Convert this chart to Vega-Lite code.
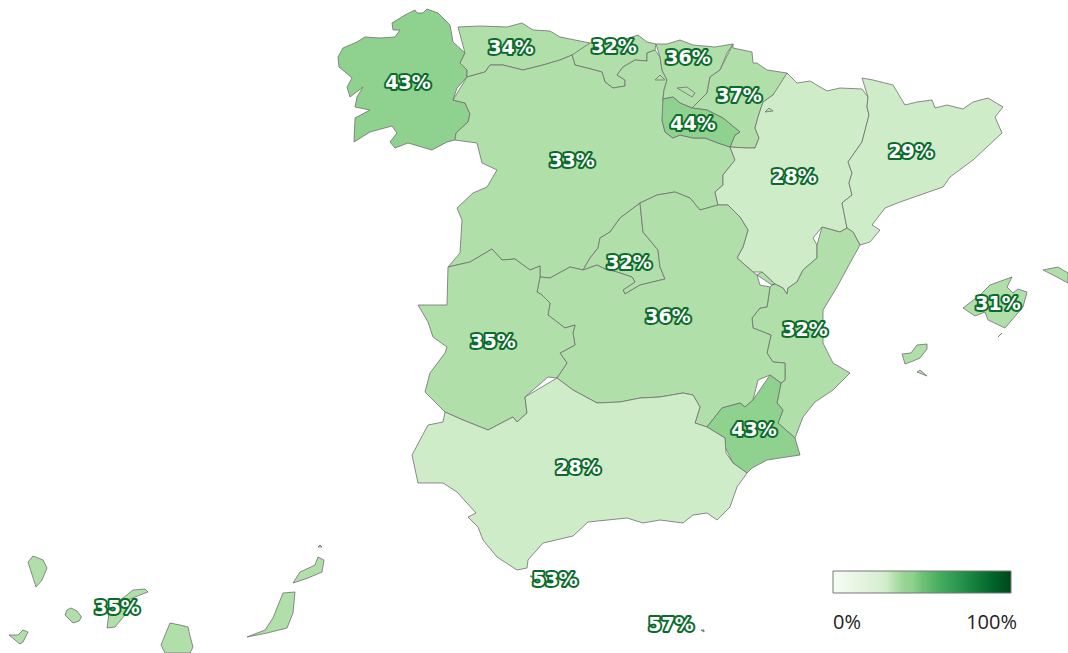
{
"$schema":"https://vega.github.io/schema/vega-lite/v6.json",
"width":1068,"height":653,"padding":0,"autosize":{"type":"none"},
"background":"white","config":{"view":{"stroke":null}},
"projection":{"type":"identity","scale":0.1,"translate":[0,0]},
"layer":[
{"data":{"values":{"type":"FeatureCollection","features":[
{"type":"Feature","properties":{"name":"Galicia","pct":43},"geometry":{"type":"Polygon","coordinates":[[[4500,250],[4380,130],[4270,90],[4230,130],[4170,130],[4150,100],[4050,150],[3920,230],[3930,300],[4000,300],[3950,370],[3800,380],[3650,370],[3570,420],[3430,480],[3380,570],[3390,670],[3450,720],[3520,780],[3470,870],[3500,970],[3630,870],[3570,970],[3550,1070],[3700,1100],[3550,1180],[3540,1420],[3700,1320],[3920,1260],[3970,1330],[3900,1420],[3950,1480],[4080,1430],[4320,1500],[4470,1420],[4550,1400],[4560,1330],[4680,1220],[4700,1140],[4650,1030],[4530,1000],[4570,880],[4670,770],[4670,700],[4600,630],[4650,530],[4530,420],[4580,270]]]}},
{"type":"Feature","properties":{"name":"Asturias","pct":34},"geometry":{"type":"Polygon","coordinates":[[[4580,270],[4800,260],[5070,270],[5220,230],[5330,300],[5500,310],[5600,370],[5900,430],[5890,500],[5720,550],[5600,600],[5430,650],[5230,700],[5030,650],[4900,650],[4850,720],[4670,770],[4670,700],[4600,630],[4650,530],[4530,420]]]}},
{"type":"Feature","properties":{"name":"Cantabria","pct":32},"geometry":{"type":"Polygon","coordinates":[[[5900,430],[6200,410],[6380,350],[6470,420],[6560,440],[6550,500],[6470,530],[6470,610],[6350,600],[6230,670],[6170,750],[6250,800],[6250,860],[6130,880],[6050,820],[6020,720],[5870,680],[5750,650],[5720,550],[5890,500]]]}},
{"type":"Feature","properties":{"name":"Castilla y León","pct":33},"geometry":{"type":"Polygon","coordinates":[[[4670,770],[4850,720],[4900,650],[5030,650],[5230,700],[5430,650],[5600,600],[5720,550],[5750,650],[5870,680],[6020,720],[6050,820],[6130,880],[6250,860],[6250,800],[6170,750],[6230,670],[6350,600],[6470,610],[6470,530],[6550,500],[6600,570],[6620,700],[6670,800],[6640,900],[6630,990],[6640,1080],[6620,1200],[6650,1320],[6730,1380],[6800,1350],[6930,1380],[7050,1380],[7180,1430],[7300,1470],[7350,1600],[7230,1750],[7230,1850],[7150,1920],[7180,2050],[7000,2100],[6900,1980],[6750,1920],[6570,1950],[6400,2030],[6200,2180],[6100,2320],[6000,2380],[5980,2480],[5900,2580],[5830,2700],[5700,2670],[5500,2780],[5400,2770],[5400,2660],[5300,2700],[5150,2590],[5020,2600],[4920,2490],[4700,2620],[4480,2670],[4600,2530],[4620,2200],[4570,2080],[4730,1930],[4870,1870],[4970,1700],[4820,1630],[4770,1430],[4550,1400],[4560,1330],[4680,1220],[4700,1140],[4650,1030],[4530,1000],[4570,880]]]}},
{"type":"Feature","properties":{"name":"País Vasco","pct":36},"geometry":{"type":"Polygon","coordinates":[[[6560,440],[6670,440],[6800,400],[6930,450],[7150,470],[7330,440],[7270,530],[7200,700],[7100,770],[7070,930],[6980,1020],[6920,1080],[6800,1030],[6730,970],[6630,990],[6640,900],[6670,800],[6620,700],[6600,570],[6550,500]]]}},
{"type":"Feature","properties":{"name":"Navarra","pct":37},"geometry":{"type":"Polygon","coordinates":[[[7330,440],[7330,480],[7520,520],[7530,630],[7570,630],[7670,700],[7870,730],[7850,820],[7730,950],[7630,1020],[7580,1170],[7550,1280],[7590,1380],[7550,1480],[7470,1480],[7300,1470],[7350,1350],[7400,1320],[7230,1180],[7070,1100],[6920,1080],[6980,1020],[7070,930],[7100,770],[7200,700],[7270,530]]]}},
{"type":"Feature","properties":{"name":"La Rioja","pct":44},"geometry":{"type":"Polygon","coordinates":[[[6630,990],[6730,970],[6800,1030],[6920,1080],[7070,1100],[7230,1180],[7400,1320],[7350,1350],[7300,1470],[7180,1430],[7050,1380],[6930,1380],[6800,1350],[6730,1380],[6650,1320],[6620,1200],[6640,1080]]]}},
{"type":"Feature","properties":{"name":"Aragón","pct":28},"geometry":{"type":"Polygon","coordinates":[[[7870,730],[7970,830],[8100,810],[8270,910],[8400,880],[8620,890],[8680,970],[8670,1070],[8690,1150],[8620,1420],[8480,1620],[8520,1730],[8490,1830],[8520,1950],[8420,2030],[8470,2280],[8400,2320],[8220,2270],[8130,2380],[8170,2450],[8170,2580],[8030,2700],[7970,2820],[7880,2880],[7870,2940],[7830,2880],[7750,2840],[7620,2720],[7530,2720],[7370,2580],[7430,2470],[7480,2300],[7400,2170],[7280,2050],[7180,2050],[7150,1920],[7230,1850],[7230,1750],[7350,1600],[7300,1470],[7470,1480],[7550,1480],[7590,1380],[7550,1280],[7580,1170],[7630,1020],[7730,950],[7850,820]]]}},
{"type":"Feature","properties":{"name":"Cataluña","pct":29},"geometry":{"type":"Polygon","coordinates":[[[8620,780],[8730,800],[8930,850],[9050,1050],[9170,1020],[9320,1000],[9350,1080],[9470,1050],[9630,1090],[9730,1020],[9880,980],[10030,1070],[9950,1170],[10020,1330],[9730,1600],[9500,1770],[9430,1870],[9000,2020],[8850,2080],[8720,2250],[8800,2300],[8700,2420],[8600,2450],[8530,2320],[8470,2280],[8420,2030],[8520,1950],[8490,1830],[8520,1730],[8480,1620],[8620,1420],[8690,1150],[8670,1070],[8680,970],[8620,890]]]}},
{"type":"Feature","properties":{"name":"Comunidad Valenciana","pct":32},"geometry":{"type":"MultiPolygon","coordinates":[[[[8220,2270],[8400,2320],[8470,2280],[8530,2320],[8600,2450],[8500,2630],[8370,2870],[8230,3100],[8230,3430],[8330,3630],[8500,3730],[8330,3900],[8150,4020],[8030,4170],[7950,4380],[7780,4230],[7830,4100],[7770,4030],[7810,3830],[7850,3800],[7850,3630],[7730,3620],[7670,3530],[7710,3350],[7530,3280],[7520,3180],[7600,3080],[7670,3070],[7700,2870],[7720,2850],[7750,2840],[7830,2880],[7870,2940],[7880,2880],[7970,2820],[8030,2700],[8170,2580],[8170,2450],[8130,2380]]],[[[7570,2750],[7620,2720],[7750,2840],[7720,2850],[7600,2850]]]]}},
{"type":"Feature","properties":{"name":"Madrid","pct":32},"geometry":{"type":"Polygon","coordinates":[[[6400,2030],[6200,2180],[6100,2320],[6000,2380],[5980,2480],[5900,2580],[5830,2700],[5970,2650],[6050,2690],[6170,2720],[6320,2770],[6350,2820],[6230,2900],[6250,2940],[6400,2850],[6650,2790],[6600,2670],[6580,2500],[6430,2320],[6470,2100]]]}},
{"type":"Feature","properties":{"name":"Castilla-La Mancha","pct":36},"geometry":{"type":"Polygon","coordinates":[[[6400,2030],[6570,1950],[6750,1920],[6900,1980],[7000,2100],[7180,2050],[7280,2050],[7400,2170],[7480,2300],[7430,2470],[7370,2580],[7530,2720],[7570,2750],[7600,2850],[7700,2870],[7670,3070],[7600,3080],[7520,3180],[7530,3280],[7710,3350],[7670,3530],[7730,3620],[7850,3630],[7850,3800],[7810,3830],[7700,3750],[7580,3800],[7530,4000],[7450,4070],[7400,4030],[7220,4080],[7070,4270],[6950,4230],[7000,4070],[6930,3950],[6830,3930],[6600,3970],[6400,3980],[6200,4020],[5970,4030],[5730,3900],[5570,3780],[5670,3630],[5600,3530],[5750,3450],[5730,3330],[5750,3250],[5650,3280],[5480,3150],[5500,3030],[5420,2950],[5370,2920],[5400,2770],[5500,2780],[5700,2670],[5830,2700],[5970,2650],[6050,2690],[6170,2720],[6320,2770],[6350,2820],[6230,2900],[6250,2940],[6400,2850],[6650,2790],[6600,2670],[6580,2500],[6430,2320],[6470,2100]]]}},
{"type":"Feature","properties":{"name":"Extremadura","pct":35},"geometry":{"type":"Polygon","coordinates":[[[4480,2670],[4700,2620],[4920,2490],[5020,2600],[5150,2590],[5300,2700],[5400,2660],[5400,2770],[5370,2920],[5420,2950],[5500,3030],[5480,3150],[5650,3280],[5750,3250],[5730,3330],[5750,3450],[5600,3530],[5670,3630],[5570,3780],[5480,3770],[5250,3970],[5270,4130],[5170,4220],[5130,4170],[4880,4300],[4630,4200],[4450,4120],[4250,3920],[4300,3730],[4450,3530],[4470,3470],[4330,3370],[4280,3220],[4180,3050],[4470,3050],[4550,2850]]]}},
{"type":"Feature","properties":{"name":"Murcia","pct":43},"geometry":{"type":"Polygon","coordinates":[[[7700,3750],[7810,3830],[7770,4030],[7830,4100],[7780,4230],[7950,4380],[8000,4550],[7800,4580],[7670,4600],[7520,4680],[7470,4730],[7330,4630],[7250,4470],[7250,4380],[7070,4270],[7220,4080],[7400,4030],[7450,4070],[7530,4000],[7580,3800]]]}},
{"type":"Feature","properties":{"name":"Andalucía","pct":28},"geometry":{"type":"Polygon","coordinates":[[[5570,3780],[5730,3900],[5970,4030],[6200,4020],[6400,3980],[6600,3970],[6830,3930],[6930,3950],[7000,4070],[6950,4230],[7070,4270],[7250,4380],[7260,4530],[7330,4630],[7470,4730],[7370,4870],[7300,5070],[7170,5200],[7070,5130],[6930,5150],[6830,5230],[6600,5200],[6430,5230],[6270,5180],[5880,5220],[5730,5360],[5430,5430],[5280,5600],[5270,5680],[5170,5700],[4970,5570],[4830,5400],[4780,5270],[4680,5170],[4760,5130],[4570,4920],[4430,4830],[4180,4830],[4120,4550],[4280,4250],[4430,4220],[4450,4120],[4630,4200],[4880,4300],[5130,4170],[5170,4220],[5270,4130],[5250,3970],[5480,3770]]]}},
{"type":"Feature","properties":{"name":"Baleares","pct":31},"geometry":{"type":"MultiPolygon","coordinates":[[[[9630,3080],[9800,2950],[9900,2850],[10120,2770],[10070,2870],[10130,2930],[10180,2890],[10270,2920],[10230,3070],[10050,3280],[9880,3200],[9850,3120],[9750,3160],[9730,3120]]],[[[10430,2700],[10580,2670],[10680,2730],[10680,2830],[10530,2750],[10450,2780]]],[[[9020,3540],[9110,3530],[9170,3450],[9270,3440],[9270,3490],[9200,3580],[9130,3610],[9050,3640],[9040,3600]]],[[[9170,3720],[9200,3700],[9270,3760],[9150,3780]]],[[[9980,3370],[10020,3330],[10020,3370]]]]}},
{"type":"Feature","properties":{"name":"Canarias","pct":35},"geometry":{"type":"MultiPolygon","coordinates":[[[[280,5620],[330,5560],[430,5600],[470,5680],[420,5800],[360,5870],[320,5730]]],[[[90,6350],[180,6350],[230,6300],[280,6320],[230,6420],[200,6440],[120,6380]]],[[[650,6150],[670,6100],[710,6080],[770,6110],[815,6170],[790,6210],[730,6230],[680,6220]]],[[[1070,6280],[1150,6270],[1250,6150],[1280,6000],[1400,5950],[1480,5920],[1450,5890],[1330,5900],[1230,5980],[1100,6050],[1000,6150]]],[[[1700,6230],[1800,6250],[1880,6270],[1900,6360],[1930,6470],[1900,6530],[1650,6530],[1610,6450],[1620,6330]]],[[[2470,6370],[2650,6300],[2730,6180],[2830,5930],[2950,5920],[2930,6130],[2870,6280],[2670,6330],[2570,6410]]],[[[2930,5830],[3000,5720],[3150,5650],[3180,5570],[3240,5600],[3220,5720],[3080,5780],[2950,5860]]],[[[3180,5470],[3200,5450],[3220,5470],[3200,5490]]]]}},
{"type":"Feature","properties":{"name":"Ceuta","pct":53},"geometry":{"type":"Polygon","coordinates":[[[5300,5760],[5340,5760],[5340,5790],[5300,5790]]]}},
{"type":"Feature","properties":{"name":"Melilla","pct":57},"geometry":{"type":"Polygon","coordinates":[[[7010,6300],[7040,6300],[7040,6320],[7010,6320]]]}},
{"type":"Feature","properties":{"name":"Condado de Treviño","pct":33},"geometry":{"type":"Polygon","coordinates":[[[6770,880],[6870,870],[6950,930],[6920,970],[6800,930]]]}},
{"type":"Feature","properties":{"name":"Valle de Villaverde","pct":33},"geometry":{"type":"Polygon","coordinates":[[[6550,800],[6600,750],[6650,800],[6600,830]]]}},
{"type":"Feature","properties":{"name":"Petilla de Aragón","pct":37},"geometry":{"type":"Polygon","coordinates":[[[7650,1120],[7690,1080],[7730,1110],[7670,1130]]]}}
]},"format":{"type":"json","property":"features"}},
"mark":{"type":"geoshape","stroke":"#6e6e6e","strokeWidth":0.8},
"encoding":{"color":{"field":"properties.pct","type":"quantitative",
"scale":{"type":"linear","domain":[0,25,28,30,30.5,38,40.5,45,50,60,70,80,90,100],"range":["#f7fcf5","#d9f0d3","#cfecc9","#cfecc9","#b1dfaa","#b1dfaa","#8fd18f","#8fd18f","#6fc277","#45ad5f","#2b9750","#137f3d","#03632a","#00481c"]},
"legend":{"title":null,"orient":"none","legendX":833,"legendY":571,"direction":"horizontal","gradientLength":178,"gradientThickness":22,"gradientStrokeColor":"#777777","gradientStrokeWidth":1,"values":[0,100],"labelExpr":"datum.label + '%'","labelFont":"Open Sans","labelFontSize":20,"labelColor":"#222222","labelOffset":20,"encode":{"labels":{"update":{"dx":{"signal":"datum.value == 100 ? 6 : 0"}}}}}}}},
{"data":{"name":"labels","values":[
{"x":4080,"y":820,"t":"43%"},{"x":5110,"y":470,"t":"34%"},{"x":6140,"y":460,"t":"32%"},{"x":6880,"y":570,"t":"36%"},{"x":7390,"y":950,"t":"37%"},{"x":6930,"y":1230,"t":"44%"},{"x":5720,"y":1600,"t":"33%"},{"x":7940,"y":1760,"t":"28%"},{"x":9110,"y":1510,"t":"29%"},{"x":6290,"y":2620,"t":"32%"},{"x":6680,"y":3160,"t":"36%"},{"x":4930,"y":3410,"t":"35%"},{"x":8050,"y":3290,"t":"32%"},{"x":7540,"y":4290,"t":"43%"},{"x":5780,"y":4670,"t":"28%"},{"x":9980,"y":3030,"t":"31%"},{"x":5550,"y":5790,"t":"53%"},{"x":6710,"y":6240,"t":"57%"},{"x":1170,"y":6070,"t":"35%"}
]},
"mark":{"type":"text","font":"DejaVu Sans","fontWeight":"bold","fontSize":19,"dy":1,"stroke":"#0b6b2a","strokeWidth":4,"strokeJoin":"round"},
"encoding":{"longitude":{"field":"x","type":"quantitative"},"latitude":{"field":"y","type":"quantitative"},"text":{"field":"t"}}},
{"data":{"name":"labels"},
"mark":{"type":"text","font":"DejaVu Sans","fontWeight":"bold","fontSize":19,"dy":1,"fill":"#ffffff"},
"encoding":{"longitude":{"field":"x","type":"quantitative"},"latitude":{"field":"y","type":"quantitative"},"text":{"field":"t"}}}
],
"resolve":{"scale":{"color":"independent"}}
}
